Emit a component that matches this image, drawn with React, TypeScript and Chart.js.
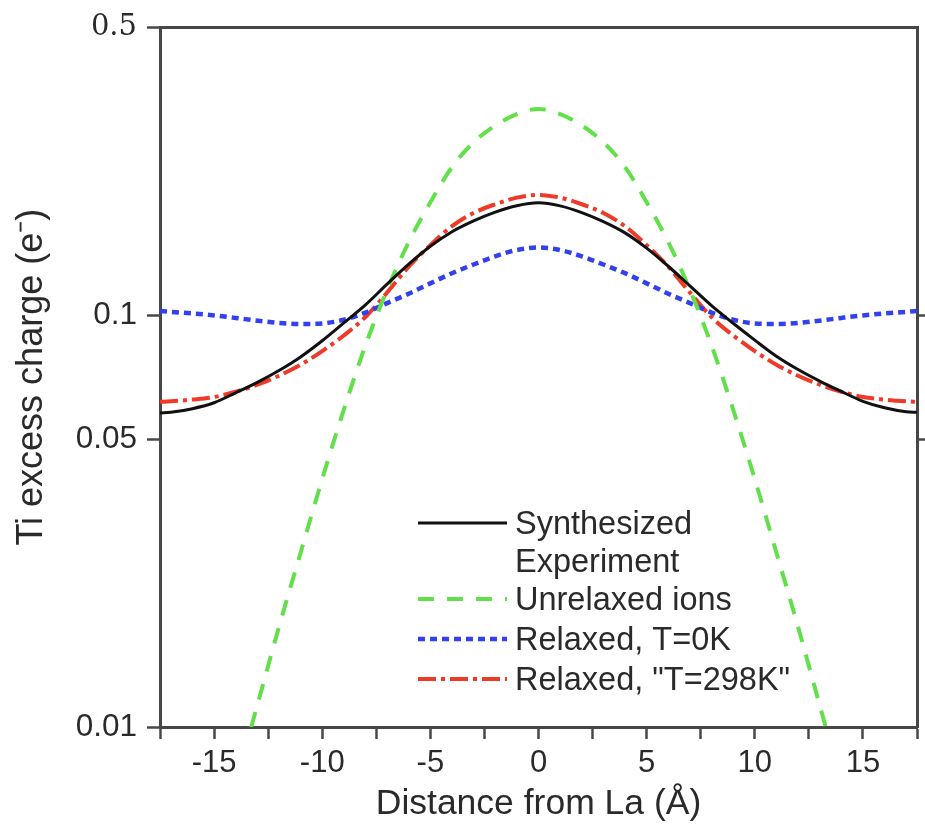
import React, { useEffect, useRef } from 'react';
import { Chart, registerables } from 'chart.js';

Chart.register(...registerables);

// Distance from La (Å)
const X_VALUES = [
  -17.5, -17, -16, -15, -14, -13, -12, -11, -10, -9, -8, -7, -6, -5, -4, -3, -2, -1, 0,
  1, 2, 3, 4, 5, 6, 7, 8, 9, 10, 11, 12, 13, 14, 15, 16, 17, 17.5,
];

// Ti excess charge (e-)
const SYNTHESIZED = [
  0.0579, 0.0581, 0.0593, 0.0613, 0.0648, 0.0687, 0.0734, 0.0792, 0.0867, 0.0958, 0.106,
  0.119, 0.133, 0.147, 0.1595, 0.1695, 0.178, 0.1845, 0.1875,
  0.1843, 0.1775, 0.1688, 0.1585, 0.1455, 0.1315, 0.1178, 0.1055, 0.0956, 0.087, 0.0795,
  0.0738, 0.0692, 0.0653, 0.0618, 0.0596, 0.0583, 0.0581,
];

const UNRELAXED = [
  null, null, null, null, 0.0073, 0.0113, 0.0175, 0.0265, 0.04, 0.059, 0.0845,
  0.1153, 0.1505, 0.188, 0.229, 0.263, 0.289, 0.308, 0.317,
  0.308, 0.289, 0.263, 0.229, 0.188, 0.1505, 0.1153, 0.0845, 0.059, 0.04, 0.0265,
  0.0175, 0.0113, 0.0073, null, null, null, null,
];

const RELAXED_0K = [
  0.1024, 0.1019, 0.101, 0.0999, 0.0985, 0.097, 0.0958, 0.0952, 0.0955, 0.0975, 0.1015,
  0.107, 0.1128, 0.1195, 0.1265, 0.1328, 0.139, 0.144, 0.146,
  0.144, 0.139, 0.1328, 0.1265, 0.1195, 0.1128, 0.107, 0.1015, 0.0975, 0.0955, 0.0952,
  0.0958, 0.097, 0.0985, 0.0999, 0.101, 0.1019, 0.1024,
];

const RELAXED_298K = [
  0.0616, 0.0618, 0.0624, 0.0633, 0.0652, 0.0678, 0.0713, 0.0758, 0.0818, 0.0893, 0.099,
  0.1135, 0.1312, 0.148, 0.1645, 0.1772, 0.186, 0.193, 0.196,
  0.193, 0.186, 0.1772, 0.1645, 0.148, 0.1312, 0.1135, 0.099, 0.0893, 0.0818, 0.0758,
  0.0713, 0.0678, 0.0652, 0.0633, 0.0624, 0.0618, 0.0616,
];

const SERIES_LABELS = [
  ['Synthesized', 'Experiment'],
  ['Unrelaxed ions'],
  ['Relaxed, T=0K'],
  ['Relaxed, "T=298K"'],
];

const X_TICKS = [-17.5, -15, -12.5, -10, -7.5, -5, -2.5, 0, 2.5, 5, 7.5, 10, 12.5, 15, 17.5];
const X_TICK_LABELS = [-15, -10, -5, 0, 5, 10, 15];
const Y_TICKS = [0.01, 0.05, 0.1, 0.5];
const Y_RIGHT_TICKS = [0.05, 0.1];

const X_TITLE = 'Distance from La (Å)';
const Y_TITLE = 'Ti excess charge (e\u207B)';

const SANS = "'Liberation Sans', Arial, Helvetica, sans-serif";
const FRAME = '#474747';
const TEXT = '#2a2a2a';

const legendPlugin = {
  id: 'customLegend',
  afterDatasetsDraw(chart: any) {
    const ctx = chart.ctx;
    const lineX0 = 418;
    const lineX1 = 507;
    const textX = 515;
    const rowY = [525, 601, 641, 681];
    const lineGap = 38;
    ctx.save();
    ctx.font = `32.5px ${SANS}`;
    ctx.textBaseline = 'middle';
    ctx.textAlign = 'left';
    chart.data.datasets.forEach((ds: any, i: number) => {
      const y = rowY[i];
      ctx.beginPath();
      ctx.setLineDash(ds.borderDash || []);
      ctx.lineDashOffset = 0;
      ctx.strokeStyle = ds.borderColor;
      ctx.lineWidth = ds.borderWidth;
      ctx.moveTo(lineX0, y - 2);
      ctx.lineTo(lineX1, y - 2);
      ctx.stroke();
      ctx.setLineDash([]);
      ctx.fillStyle = TEXT;
      const lines = SERIES_LABELS[i];
      lines.forEach((t, k) => ctx.fillText(t, textX, y + k * lineGap));
    });
    ctx.restore();
  },
};

export default function App() {
  const canvasRef = useRef<HTMLCanvasElement | null>(null);

  useEffect(() => {
    if (!canvasRef.current) return;
    const mk = (vals: (number | null)[]) => X_VALUES.map((x, i) => ({ x, y: vals[i] }));
    const chart = new Chart(canvasRef.current, {
      type: 'line',
      data: {
        datasets: [
          {
            label: SERIES_LABELS[0].join(' '),
            data: mk(SYNTHESIZED),
            borderColor: '#111111',
            borderWidth: 3,
            borderDash: [],
            pointRadius: 0,
            cubicInterpolationMode: 'monotone',
          },
          {
            label: SERIES_LABELS[1][0],
            data: mk(UNRELAXED),
            borderColor: '#62e04a',
            borderWidth: 4,
            borderDash: [16, 13],
            pointRadius: 0,
            cubicInterpolationMode: 'monotone',
          },
          {
            label: SERIES_LABELS[2][0],
            data: mk(RELAXED_0K),
            borderColor: '#3340ee',
            borderWidth: 4.5,
            borderDash: [7, 5],
            pointRadius: 0,
            cubicInterpolationMode: 'monotone',
          },
          {
            label: SERIES_LABELS[3][0],
            data: mk(RELAXED_298K),
            borderColor: '#ee3a26',
            borderWidth: 4,
            borderDash: [18, 5, 4, 5],
            pointRadius: 0,
            cubicInterpolationMode: 'monotone',
          },
        ] as any,
      },
      options: {
        animation: false,
        responsive: false,
        layout: { padding: 0 },
        plugins: {
          legend: { display: false },
          tooltip: { enabled: false },
        },
        scales: {
          x: {
            type: 'linear',
            position: 'bottom',
            min: -17.5,
            max: 17.5,
            afterBuildTicks: (s: any) => {
              s.ticks = X_TICKS.map((v) => ({ value: v }));
            },
            afterFit: (s: any) => {
              s.height = 101;
            },
            ticks: {
              autoSkip: false,
              maxRotation: 0,
              padding: 6,
              color: TEXT,
              font: { family: SANS, size: 31 },
              callback: (v: any) => (X_TICK_LABELS.includes(Number(v)) ? String(v) : ''),
            },
            grid: {
              drawOnChartArea: false,
              drawTicks: true,
              tickLength: 12,
              tickColor: FRAME,
              tickWidth: 2.5,
            },
            border: { color: FRAME, width: 3 },
            title: {
              display: true,
              text: X_TITLE,
              color: TEXT,
              font: { family: SANS, size: 35.5 },
              padding: { top: 0, bottom: 2 },
            },
          },
          x2: {
            type: 'linear',
            position: 'top',
            min: -17.5,
            max: 17.5,
            afterFit: (s: any) => {
              s.height = 25;
            },
            ticks: { display: false },
            grid: { drawOnChartArea: false, drawTicks: false },
            border: { color: FRAME, width: 3 },
          },
          y: {
            type: 'logarithmic',
            position: 'left',
            min: 0.01,
            max: 0.5,
            afterBuildTicks: (s: any) => {
              s.ticks = Y_TICKS.map((v) => ({ value: v }));
            },
            afterFit: (s: any) => {
              s.width = 160;
            },
            ticks: {
              padding: 10,
              color: TEXT,
              font: (c: any) =>
                c.tick && c.tick.value === 0.5
                  ? { family: "'DejaVu Serif', serif", size: 29 }
                  : { family: SANS, size: 31.5 },
              callback: (v: any) => String(v),
            },
            grid: {
              drawOnChartArea: false,
              drawTicks: true,
              tickLength: 13,
              tickColor: FRAME,
              tickWidth: 2.5,
            },
            border: { color: FRAME, width: 3 },
            title: {
              display: true,
              text: Y_TITLE,
              color: TEXT,
              font: { family: SANS, size: 36 },
              padding: { top: 10, bottom: 0 },
            },
          },
          y2: {
            type: 'logarithmic',
            position: 'right',
            min: 0.01,
            max: 0.5,
            afterBuildTicks: (s: any) => {
              s.ticks = Y_RIGHT_TICKS.map((v) => ({ value: v }));
            },
            afterFit: (s: any) => {
              s.width = 8;
            },
            ticks: { display: false },
            grid: {
              drawOnChartArea: false,
              drawTicks: true,
              tickLength: 8,
              tickColor: FRAME,
              tickWidth: 2.5,
            },
            border: { color: FRAME, width: 3 },
          },
        },
      } as any,
      plugins: [legendPlugin],
    });
    return () => chart.destroy();
  }, []);

  return (
    <div style={{ position: 'absolute', left: 0, top: 0, width: 925, height: 828, background: '#fff' }}>
      <canvas ref={canvasRef} width={925} height={828} style={{ display: 'block' }} />
    </div>
  );
}
